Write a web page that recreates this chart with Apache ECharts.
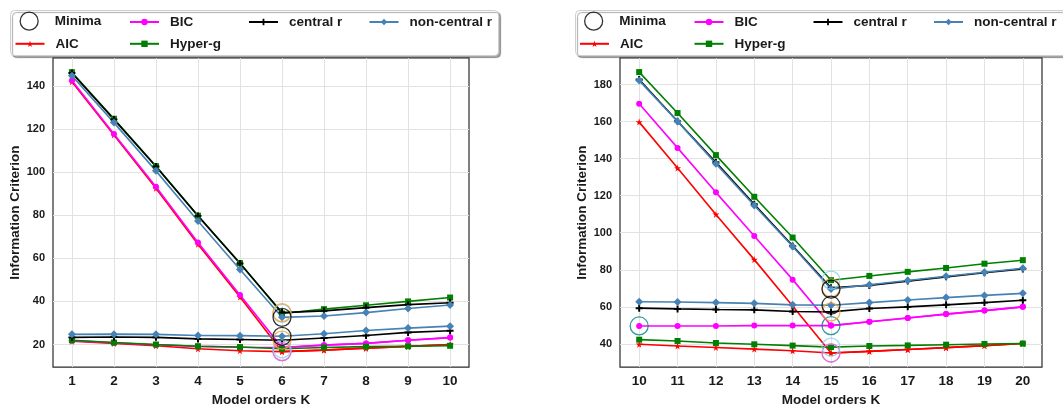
<!DOCTYPE html>
<html><head><meta charset="utf-8">
<script src="https://cdn.jsdelivr.net/npm/echarts@6/dist/echarts.min.js"></script>
<style>html,body{margin:0;padding:0;background:#fff}#c{width:1063px;height:412px}</style>
</head><body><div id="c"></div><script>
// ---------- data ----------
const kLeft = [1, 2, 3, 4, 5, 6, 7, 8, 9, 10];
const kRight = [10, 11, 12, 13, 14, 15, 16, 17, 18, 19, 20];
const leftTicksY = [20, 40, 60, 80, 100, 120, 140];
const rightTicksY = [40, 60, 80, 100, 120, 140, 160, 180];

// left panel, steep group
const L_AIC_a = [142.0, 117.3, 92.5, 66.5, 42.0, 16.7, 17.4, 18.3, 19.1, 20.0];
const L_BIC_a = [142.5, 117.7, 93.2, 67.3, 43.0, 18.6, 19.7, 20.5, 22.0, 23.2];
const L_HYP_a = [146.4, 124.8, 102.8, 79.8, 57.8, 34.4, 36.4, 38.2, 40.0, 41.8];
const L_CEN_a = [146.0, 124.5, 102.6, 79.7, 57.6, 34.8, 35.6, 37.1, 38.5, 39.4];
const L_NON_a = [144.8, 123.0, 100.6, 77.3, 54.8, 32.6, 33.2, 34.8, 36.7, 38.3];
// left panel, flat group
const L_AIC_b = [21.5, 20.5, 19.4, 18.0, 17.1, 16.7, 17.4, 18.3, 19.1, 20.0];
const L_BIC_b = [21.8, 20.8, 19.9, 19.1, 18.7, 18.6, 19.7, 20.5, 22.0, 23.2];
const L_HYP_b = [22.0, 20.9, 20.0, 19.2, 18.8, 18.0, 18.6, 19.0, 19.2, 19.4];
const L_CEN_b = [23.3, 23.5, 23.3, 22.6, 22.3, 22.0, 23.0, 24.2, 25.6, 26.4];
const L_NON_b = [24.7, 24.8, 24.7, 24.2, 24.1, 23.8, 25.0, 26.5, 27.6, 28.5];

// right panel, steep group
const R_AIC_a = [159.7, 134.9, 109.9, 85.5, 60.5, 35.1, 36.0, 37.0, 38.0, 39.1, 40.2];
const R_BIC_a = [169.6, 145.8, 121.8, 98.2, 74.7, 49.9, 52.0, 54.0, 56.1, 58.0, 60.0];
const R_HYP_a = [186.7, 164.6, 141.9, 119.4, 97.4, 74.4, 76.7, 78.9, 81.0, 83.3, 85.2];
const R_CEN_a = [182.7, 160.2, 138.0, 115.4, 92.9, 70.3, 71.6, 73.9, 76.2, 78.4, 80.5];
const R_NON_a = [182.1, 160.0, 137.3, 114.7, 92.6, 69.6, 71.9, 74.2, 76.5, 78.7, 80.8];
// right panel, flat group
const R_AIC_b = [39.8, 38.9, 38.1, 37.2, 36.3, 35.1, 36.0, 37.0, 38.0, 39.1, 40.2];
const R_BIC_b = [49.7, 49.7, 49.7, 49.9, 49.9, 49.9, 52.0, 54.0, 56.1, 58.0, 60.0];
const R_HYP_b = [42.3, 41.6, 40.5, 39.8, 39.1, 38.3, 38.9, 39.2, 39.6, 40.0, 40.2];
const R_CEN_b = [59.3, 58.9, 58.6, 58.4, 57.5, 57.3, 59.1, 60.0, 61.1, 62.3, 63.6];
const R_NON_b = [62.8, 62.6, 62.3, 61.9, 61.1, 60.9, 62.3, 63.7, 65.0, 66.2, 67.3];

// criteria whose minima are circled in each panel
const leftMinimaShown = ['AIC', 'Hyper-g', 'central r', 'non-central r'];
const rightMinimaShown = ['AIC', 'BIC', 'Hyper-g', 'central r', 'non-central r'];

// ---------- styles ----------
const FONT = '"Liberation Sans", Arial, sans-serif';
const STAR = 'path://M50,0 L61,35 L98,35 L68,57 L79,91 L50,70 L21,91 L32,57 L2,35 L39,35 Z';
const PLUS = 'path://M36,0 H64 V36 H100 V64 H64 V100 H36 V64 H0 V36 H36 Z';
const STY = {
  'AIC': {color: '#ff0000', symbol: STAR, size: 7},
  'BIC': {color: '#ff00ff', symbol: 'circle', size: 6},
  'Hyper-g': {color: '#008000', symbol: 'rect', size: 6},
  'central r': {color: '#000000', symbol: PLUS, size: 7},
  'non-central r': {color: '#4682b4', symbol: 'diamond', size: 8}
};
const MIN_COLOR = {
  'AIC': '#da70d6', 'BIC': '#008080', 'Hyper-g': '#87ceeb',
  'central r': '#f0a030', 'non-central r': '#000000'
};

function lineSeries(name, ks, vals, gi) {
  const s = STY[name];
  return {
    type: 'line', name: name, xAxisIndex: gi, yAxisIndex: gi,
    data: ks.map((k, i) => [k, vals[i]]),
    symbol: s.symbol, symbolSize: s.size, showSymbol: true,
    lineStyle: {color: s.color, width: 1.6},
    itemStyle: {color: s.color, borderWidth: 0},
    z: 3, silent: true
  };
}
function minimaPoints(groups, ks, shown) {
  const pts = [];
  groups.forEach(g => {
    Object.keys(g).forEach(name => {
      if (shown.indexOf(name) < 0) return;
      const v = g[name];
      let mi = 0;
      v.forEach((x, i) => { if (x < v[mi]) mi = i; });
      pts.push({value: [ks[mi], v[mi]], itemStyle: {borderColor: MIN_COLOR[name]}});
    });
  });
  return pts;
}

const leftGroups = [
  {'AIC': L_AIC_a, 'BIC': L_BIC_a, 'Hyper-g': L_HYP_a, 'central r': L_CEN_a, 'non-central r': L_NON_a},
  {'AIC': L_AIC_b, 'BIC': L_BIC_b, 'Hyper-g': L_HYP_b, 'central r': L_CEN_b, 'non-central r': L_NON_b}
];
const rightGroups = [
  {'AIC': R_AIC_a, 'BIC': R_BIC_a, 'Hyper-g': R_HYP_a, 'central r': R_CEN_a, 'non-central r': R_NON_a},
  {'AIC': R_AIC_b, 'BIC': R_BIC_b, 'Hyper-g': R_HYP_b, 'central r': R_CEN_b, 'non-central r': R_NON_b}
];

const series = [];
[[leftGroups, kLeft, 0], [rightGroups, kRight, 1]].forEach(([groups, ks, gi]) => {
  groups.forEach(g => {
    Object.keys(g).forEach(name => series.push(lineSeries(name, ks, g[name], gi)));
  });
});
series.push({
  type: 'scatter', name: 'Minima', xAxisIndex: 0, yAxisIndex: 0, symbol: 'circle', symbolSize: 18,
  itemStyle: {color: 'rgba(0,0,0,0)', borderWidth: 1.3}, z: 4, silent: true,
  data: minimaPoints(leftGroups, kLeft, leftMinimaShown)
});
series.push({
  type: 'scatter', name: 'Minima', xAxisIndex: 1, yAxisIndex: 1, symbol: 'circle', symbolSize: 18,
  itemStyle: {color: 'rgba(0,0,0,0)', borderWidth: 1.3}, z: 4, silent: true,
  data: minimaPoints(rightGroups, kRight, rightMinimaShown)
});

// ---------- axes ----------
const axisNameStyle = {fontFamily: FONT, fontWeight: 'bold', fontSize: 13.5, color: '#1a1a1a'};
function xAxis(gi, ks) {
  const pad = ks.length === 10 ? 0.45 : 0.5;
  return {
    type: 'value', gridIndex: gi, min: ks[0] - pad, max: ks[ks.length - 1] + pad,
    name: 'Model orders K', nameLocation: 'middle', nameGap: 25, nameTextStyle: axisNameStyle,
    axisLine: {show: false}, axisTick: {show: false, customValues: ks},
    axisLabel: {customValues: ks, fontFamily: FONT, fontWeight: 'bold', fontSize: 13.5, color: '#1a1a1a', margin: 7},
    splitLine: {show: true, lineStyle: {color: '#e2e2e2', width: 1}}
  };
}
function yAxis(gi, ticks, mn, mx) {
  return {
    type: 'value', gridIndex: gi, min: mn, max: mx,
    name: 'Information Criterion', nameLocation: 'middle', nameGap: 31, nameTextStyle: axisNameStyle,
    axisLine: {show: false}, axisTick: {show: false, customValues: ticks},
    axisLabel: {customValues: ticks, fontFamily: FONT, fontWeight: 'bold', fontSize: 11, color: '#1a1a1a', margin: 8},
    splitLine: {show: true, lineStyle: {color: '#e2e2e2', width: 1}}
  };
}

// ---------- legends ----------
const legTxt = {fontFamily: FONT, fontWeight: 'bold', fontSize: 13.5, color: '#1a1a1a', padding: [0, 0, 0, 6]};
function legendItems(dx) {
  const rows = [20.5, 42.3];
  const items = [
    ['Minima', 19.5, 0], ['BIC', 129, 0], ['central r', 248, 0], ['non-central r', 368.5, 0],
    ['AIC', 14.5, 1], ['Hyper-g', 129, 1]
  ];
  return items.map(([name, x, r]) => {
    const isMin = name === 'Minima';
    const h = isMin ? 18 : 8;
    return {
      show: true, left: x + dx, top: isMin ? rows[r] - 9 : rows[r] - 5.5, itemWidth: 29, itemHeight: h, padding: 0,
      selectedMode: false, textStyle: legTxt,
      data: [isMin ? {name: name, icon: 'circle', itemStyle: {color: 'rgba(0,0,0,0)', borderColor: '#000', borderWidth: 1.3}} : {name: name}]
    };
  });
}

const option = {
  animation: false,
  backgroundColor: '#ffffff',
  grid: [
    {left: 53, top: 58, width: 416, height: 314, show: true, borderColor: '#2a2a2a', borderWidth: 1.2, backgroundColor: 'rgba(0,0,0,0)'},
    {left: 620, top: 58, width: 422, height: 314, show: true, borderColor: '#2a2a2a', borderWidth: 1.2, backgroundColor: 'rgba(0,0,0,0)'}
  ],
  xAxis: [xAxis(0, kLeft), xAxis(1, kRight)],
  yAxis: [yAxis(0, leftTicksY, 9.5, 153), yAxis(1, rightTicksY, 27.5, 194.3)],
  graphic: [
    {type: 'rect', left: 10, top: 10, z: 50, shape: {width: 488, height: 45, r: 4},
     style: {fill: '#fff', stroke: '#cfcfcf', lineWidth: 1, shadowColor: 'rgba(0,0,0,0.35)', shadowOffsetX: 2, shadowOffsetY: 2, shadowBlur: 1}},
    {type: 'rect', left: 575, top: 10, z: 50, shape: {width: 500, height: 45, r: 4},
     style: {fill: '#fff', stroke: '#cfcfcf', lineWidth: 1, shadowColor: 'rgba(0,0,0,0.35)', shadowOffsetX: 2, shadowOffsetY: 2, shadowBlur: 1}}
  ],
  legend: legendItems(0).concat(legendItems(564.5)).map(l => Object.assign(l, {z: 60})),
  series: series
};
const chart = echarts.init(document.getElementById('c'), null, {renderer: 'canvas'});
chart.setOption(option);
</script></body></html>
